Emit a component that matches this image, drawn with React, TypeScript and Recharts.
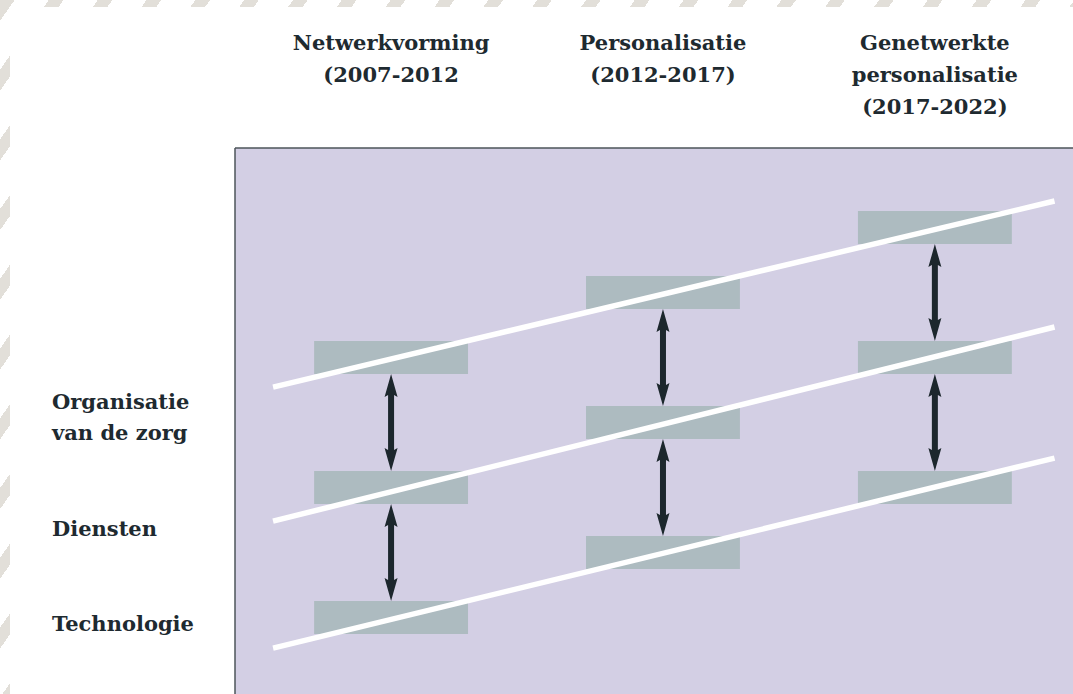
import {
  CartesianGrid,
  ComposedChart,
  ReferenceArea,
  ReferenceLine,
  XAxis,
  YAxis,
} from "recharts";

// phases (columns) and their mid-year
const phaseNames = [
  ["Netwerkvorming", "(2007-2012"],
  ["Personalisatie", "(2012-2017)"],
  ["Genetwerkte", "personalisatie", "(2017-2022)"],
];
const phaseYears = [2009.5, 2014.5, 2019.5];

// layers (rows), bottom to top
const layerNames = [["Technologie"], ["Diensten"], ["Organisatie", "van de zorg"]];
const layerLabelLevels = [-0.05, 0.68, 1.54];

// level of each layer's box per phase
const technologie = [0, 0.5, 1];
const diensten = [1, 1.5, 2];
const organisatie = [2, 2.5, 3];
const layers = [technologie, diensten, organisatie];

// white lines through each layer: [start, end]
const lineYears = [2007.33, 2021.7];
const technologieLine = [-0.235, 1.227];
const dienstenLine = [0.742, 2.235];
const organisatieLine = [1.773, 3.204];
const lines = [technologieLine, dienstenLine, organisatieLine];

const BOX_HALF_W = 1.415;
const BOX_HALF_H = 0.127;

const textColor = "#1e2a30";
const fontFamily = "'DejaVu Serif', serif";

function HeaderTick(props: any) {
  const { x, payload } = props;
  const i = phaseYears.indexOf(payload.value);
  const rows = phaseNames[i] || [];
  return (
    <text
      x={x}
      y={50}
      textAnchor="middle"
      fill={textColor}
      fontFamily={fontFamily}
      fontWeight="bold"
      fontSize={21}
    >
      {rows.map((r, k) => (
        <tspan key={k} x={x} dy={k === 0 ? 0 : 32}>
          {r}
        </tspan>
      ))}
    </text>
  );
}

function LayerTick(props: any) {
  const { y, payload } = props;
  const i = layerLabelLevels.indexOf(payload.value);
  const rows = layerNames[i] || [];
  const top = y + 7 - ((rows.length - 1) * 31) / 2;
  return (
    <text
      x={52}
      y={top}
      textAnchor="start"
      fill={textColor}
      fontFamily={fontFamily}
      fontWeight="bold"
      fontSize={21}
    >
      {rows.map((r, k) => (
        <tspan key={k} x={52} dy={k === 0 ? 0 : 31}>
          {r}
        </tspan>
      ))}
    </text>
  );
}

function Arrow(props: any) {
  const { x1, y1, y2 } = props;
  const x = x1;
  const top = Math.min(y1, y2);
  const bot = Math.max(y1, y2);
  const pts = [
    [x, top],
    [x + 6.5, top + 23],
    [x + 3, top + 21],
    [x + 3, bot - 21],
    [x + 6.5, bot - 23],
    [x, bot],
    [x - 6.5, bot - 23],
    [x - 3, bot - 21],
    [x - 3, top + 21],
    [x - 6.5, top + 23],
  ]
    .map((p) => p.join(","))
    .join(" ");
  return <polygon points={pts} fill="#1c272d" />;
}

export default function App() {
  return (
    <div
      style={{
        position: "relative",
        width: 1073,
        height: 694,
        overflow: "hidden",
        background:
          "repeating-linear-gradient(125deg, #e2dfd9 0px, #e2dfd9 12px, #ffffff 12px, #ffffff 40px)",
      }}
    >
      <style>{"body{margin:0}"}</style>
      <div
        style={{
          position: "absolute",
          left: 10,
          top: 7,
          right: 0,
          bottom: 0,
          background: "#ffffff",
        }}
      />
      <div style={{ position: "absolute", left: 0, top: 0 }}>
        <ComposedChart
          width={1073}
          height={694}
          margin={{ top: 0, left: 0, right: 0, bottom: 0 }}
        >
          <CartesianGrid
            fill="#d3cfe4"
            fillOpacity={1}
            stroke="none"
            horizontal={false}
            vertical={false}
          />
          <XAxis
            type="number"
            dataKey="x"
            orientation="top"
            domain={[2006.63, 2022.04]}
            allowDataOverflow
            ticks={phaseYears}
            interval={0}
            height={148}
            tickLine={false}
            axisLine={{ stroke: "#4d555a", strokeWidth: 1.5 }}
            tick={<HeaderTick />}
          />
          <YAxis
            type="number"
            dataKey="y"
            domain={[-0.588, 3.612]}
            allowDataOverflow
            ticks={layerLabelLevels}
            interval={0}
            width={235}
            tickLine={false}
            axisLine={{ stroke: "#4d555a", strokeWidth: 1.5 }}
            tick={<LayerTick />}
          />
          {layers.map((levels, li) =>
            levels.map((lv, pi) => (
              <ReferenceArea
                key={`box-${li}-${pi}`}
                x1={phaseYears[pi] - BOX_HALF_W}
                x2={phaseYears[pi] + BOX_HALF_W}
                y1={lv - BOX_HALF_H}
                y2={lv + BOX_HALF_H}
                fill="#adbbc0"
                fillOpacity={1}
                stroke="none"
              />
            ))
          )}
          {lines.map((ln, i) => (
            <ReferenceLine
              key={`line-${i}`}
              segment={[
                { x: lineYears[0], y: ln[0] },
                { x: lineYears[1], y: ln[1] },
              ]}
              stroke="#ffffff"
              strokeWidth={5.5}
            />
          ))}
          {layers.slice(0, 2).map((levels, li) =>
            levels.map((lv, pi) => (
              <ReferenceLine
                key={`arrow-${li}-${pi}`}
                segment={[
                  { x: phaseYears[pi], y: lv + BOX_HALF_H },
                  { x: phaseYears[pi], y: layers[li + 1][pi] - BOX_HALF_H },
                ]}
                shape={(p: any) => <Arrow {...p} />}
              />
            ))
          )}
        </ComposedChart>
      </div>
    </div>
  );
}
